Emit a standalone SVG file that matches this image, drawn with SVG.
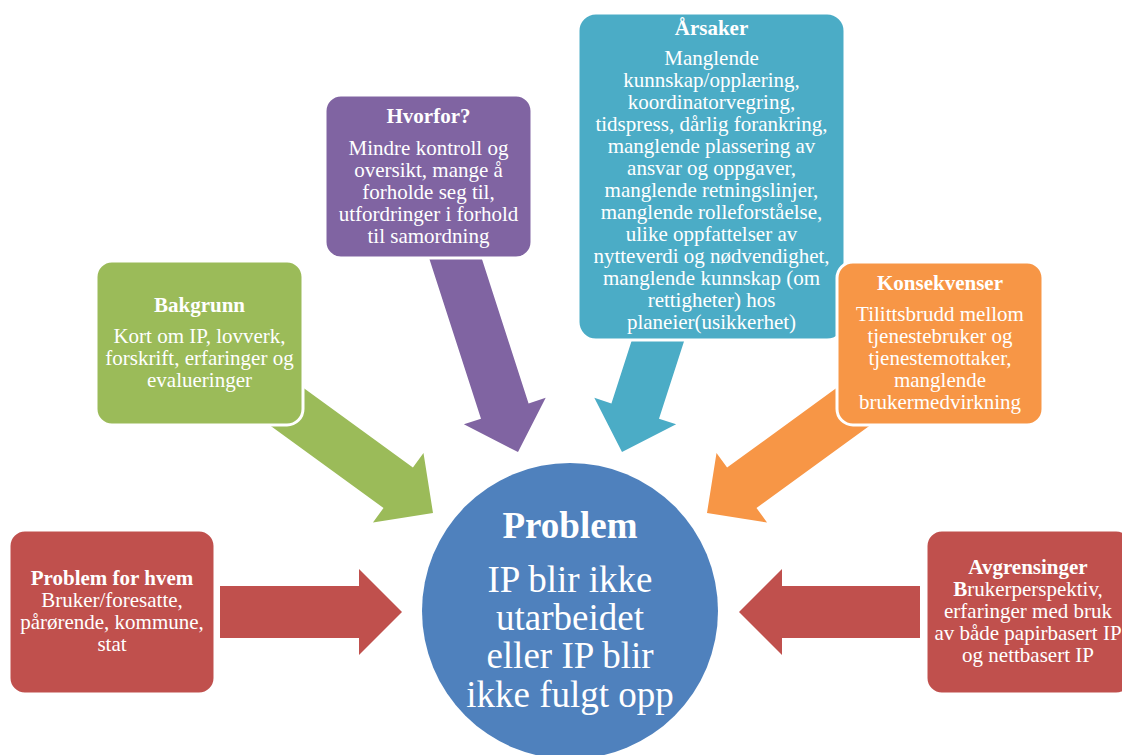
<svg xmlns="http://www.w3.org/2000/svg" width="1122" height="755" viewBox="0 0 1122 755">
<style>
.t{font-family:"Liberation Serif","Times New Roman",serif;fill:#fff;text-anchor:middle;font-size:21px}
.b{font-weight:bold}
.box{stroke:#fff;stroke-width:3}
.green{fill:#9BBB59}.purple{fill:#8064A2}.teal{fill:#4BACC6}.orange{fill:#F79646}.red{fill:#C0504D}.blue{fill:#4F81BD}
.big{font-size:37px}
</style>
<rect width="1122" height="755" fill="#fff"/>
<g id="connectors">
<path class="red" d="M0,0 L-43,43 L-43,26 L-182,26 L-182,-26 L-43,-26 L-43,-43 Z" transform="translate(402,612)"/>
<path class="red" d="M0,0 L-43,43 L-43,26 L-181,26 L-181,-26 L-43,-26 L-43,-43 Z" transform="translate(739,612) rotate(180)"/>
<path class="green" d="M0,0 L-43,43 L-43,25 L-190,25 L-190,-25 L-43,-25 L-43,-43 Z" transform="translate(433,513) rotate(36)"/>
<path class="purple" d="M0,0 L-43,43 L-43,25 L-230,25 L-230,-25 L-43,-25 L-43,-43 Z" transform="translate(518,452) rotate(72.1)"/>
<path class="teal" d="M0,0 L-43,43 L-43,25 L-130,25 L-130,-25 L-43,-25 L-43,-43 Z" transform="translate(622,452) rotate(107.9)"/>
<path class="orange" d="M0,0 L-43,43 L-43,25 L-190,25 L-190,-25 L-43,-25 L-43,-43 Z" transform="translate(707,513) rotate(144)"/>
</g>
<g id="problem-for-hvem">
<rect class="box red" x="9" y="530" width="206" height="164" rx="16"/>
<text class="t"><tspan class="b" x="112" y="585">Problem for hvem</tspan><tspan x="112" y="607">Bruker/foresatte,</tspan><tspan x="112" y="629">pårørende, kommune,</tspan><tspan x="112" y="651">stat</tspan></text>
</g>
<g id="bakgrunn">
<rect class="box green" x="96" y="261" width="207" height="164" rx="16"/>
<text class="t"><tspan class="b" x="199.5" y="312">Bakgrunn</tspan><tspan x="199.5" y="343">Kort om IP, lovverk,</tspan><tspan x="199.5" y="365">forskrift, erfaringer og</tspan><tspan x="199.5" y="387">evalueringer</tspan></text>
</g>
<g id="hvorfor">
<rect class="box purple" x="325" y="95" width="207" height="163" rx="16"/>
<text class="t"><tspan class="b" x="428.5" y="123">Hvorfor?</tspan><tspan x="428.5" y="155">Mindre kontroll og</tspan><tspan x="428.5" y="177">oversikt, mange å</tspan><tspan x="428.5" y="199">forholde seg til,</tspan><tspan x="428.5" y="221">utfordringer i forhold</tspan><tspan x="428.5" y="243">til samordning</tspan></text>
</g>
<g id="arsaker">
<rect class="box teal" x="578" y="13" width="267" height="327" rx="18"/>
<text class="t"><tspan class="b" x="711.5" y="35">Årsaker</tspan><tspan x="711.5" y="65">Manglende</tspan><tspan x="711.5" y="87">kunnskap/opplæring,</tspan><tspan x="711.5" y="109">koordinatorvegring,</tspan><tspan x="711.5" y="131">tidspress, dårlig forankring,</tspan><tspan x="711.5" y="153">manglende plassering av</tspan><tspan x="711.5" y="175">ansvar og oppgaver,</tspan><tspan x="711.5" y="197">manglende retningslinjer,</tspan><tspan x="711.5" y="219">manglende rolleforståelse,</tspan><tspan x="711.5" y="241">ulike oppfattelser av</tspan><tspan x="711.5" y="263">nytteverdi og nødvendighet,</tspan><tspan x="711.5" y="285">manglende kunnskap (om</tspan><tspan x="711.5" y="307">rettigheter) hos</tspan><tspan x="711.5" y="329">planeier(usikkerhet)</tspan></text>
</g>
<g id="konsekvenser">
<rect class="box orange" x="837" y="262" width="206" height="163" rx="16"/>
<text class="t"><tspan class="b" x="940" y="290">Konsekvenser</tspan><tspan x="940" y="321">Tilittsbrudd mellom</tspan><tspan x="940" y="343">tjenestebruker og</tspan><tspan x="940" y="365">tjenestemottaker,</tspan><tspan x="940" y="387">manglende</tspan><tspan x="940" y="409">brukermedvirkning</tspan></text>
</g>
<g id="avgrensinger">
<rect class="box red" x="926" y="530" width="206" height="164" rx="16"/>
<text class="t"><tspan class="b" x="1028" y="574">Avgrensinger</tspan><tspan x="1028" y="596"><tspan class="b">B</tspan>rukerperspektiv,</tspan><tspan x="1028" y="618">erfaringer med bruk</tspan><tspan x="1028" y="640">av både papirbasert IP</tspan><tspan x="1028" y="662">og nettbasert IP</tspan></text>
</g>
<g id="problem">
<circle class="blue" cx="570" cy="611" r="148"/>
<text class="t big"><tspan class="b" x="570" y="538">Problem</tspan><tspan x="570" y="592">IP blir ikke</tspan><tspan x="570" y="630">utarbeidet</tspan><tspan x="570" y="668">eller IP blir</tspan><tspan x="570" y="707">ikke fulgt opp</tspan></text>
</g>
</svg>
